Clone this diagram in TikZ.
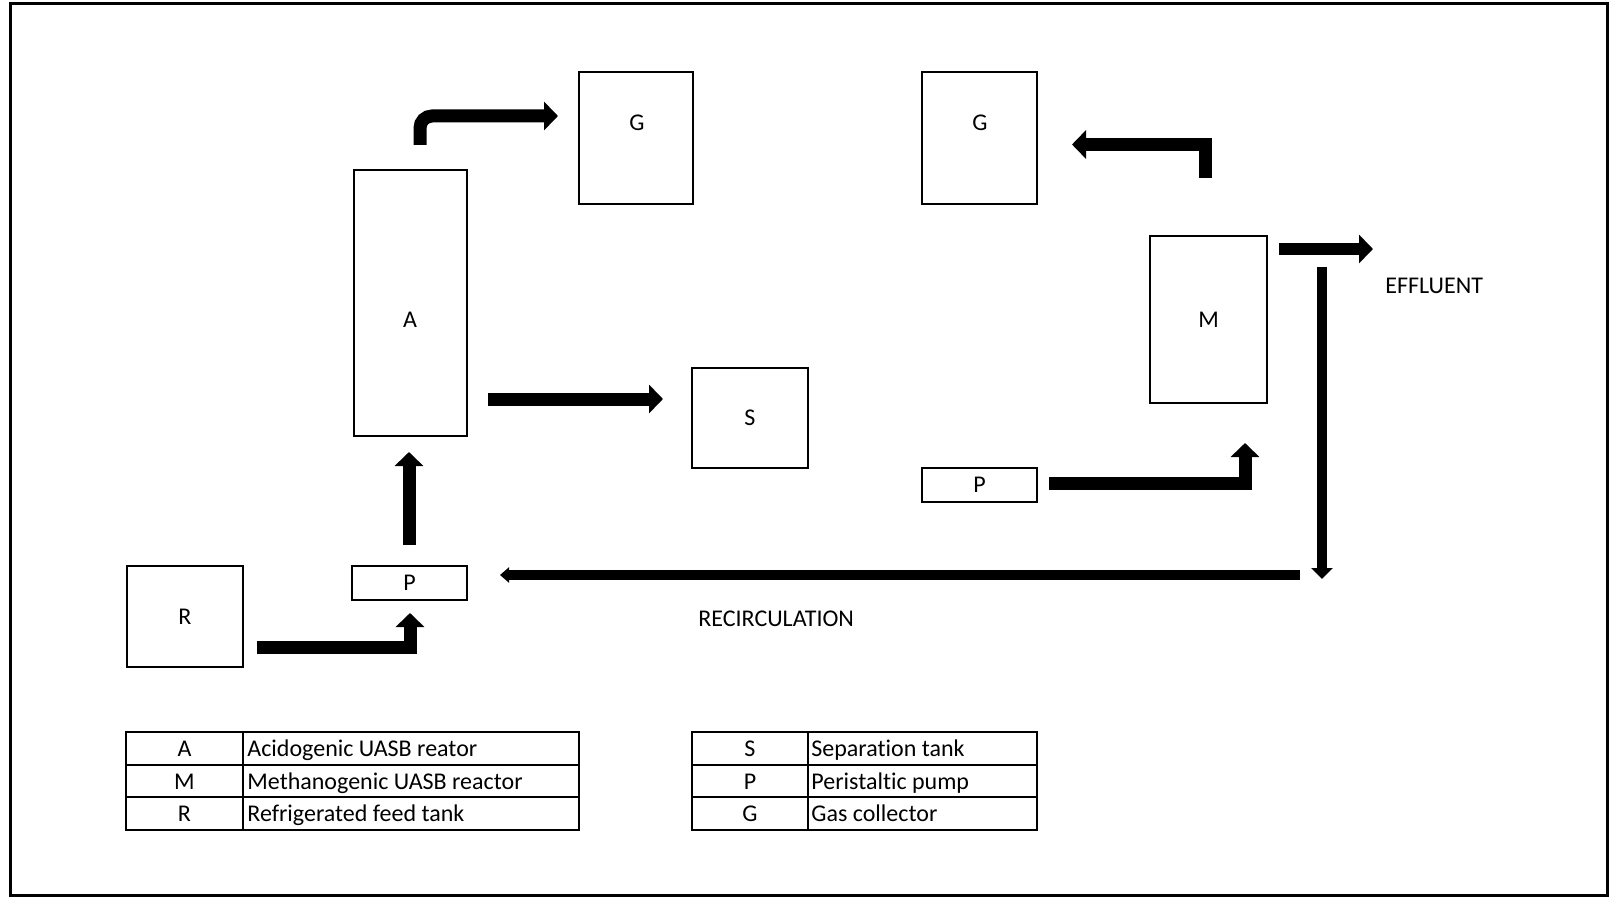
\documentclass[tikz,border=0pt]{standalone}
\usepackage{fontspec}
\setmainfont{Carlito}[Ligatures=NoCommon]
\usetikzlibrary{arrows.meta}
\begin{document}
\begin{tikzpicture}[x=0.5pt,y=-0.5pt,
  box/.style={draw, line width=1pt, inner sep=0pt},
  lbl/.style={font=\fontsize{12}{14}\selectfont, inner sep=0pt},
  flow/.style={line width=6.5pt, -{Triangle[width=14pt,length=7pt]}},
  rflow/.style={line width=5pt, -{Triangle[width=10.5pt,length=5.5pt]}},
  rtip/.style={line width=5pt, -{Triangle[width=7.5pt,length=4.5pt]}},
  tab/.style={line width=1pt},
]
\useasboundingbox (0,0) rectangle (1612,899);
\draw[line width=1.5pt] (10,4) rectangle (1607,895);

% boxes
\node[box, minimum width=56.5pt, minimum height=133pt] (A) at (410.5,303) {};
\node[lbl] (Atxt) at (410,320) {A};
\node[box, minimum width=57pt, minimum height=66pt] (G1) at (636,138) {};
\node[lbl] (G1txt) at (637,123) {G};
\node[box, minimum width=57.5pt, minimum height=66pt] (G2) at (979.5,138) {};
\node[lbl] (G2txt) at (980,123) {G};
\node[box, lbl, draw, line width=1pt, minimum width=58pt, minimum height=50pt] (S) at (750,418) {S};
\node[box, lbl, draw, line width=1pt, minimum width=58.5pt, minimum height=83.5pt] (M) at (1208.5,319.5) {M};
\node[box, lbl, draw, line width=1pt, minimum width=57.5pt, minimum height=17pt] (P1) at (409.5,583) {P};
\node[box, lbl, draw, line width=1pt, minimum width=57.5pt, minimum height=17pt] (P2) at (979.5,485) {P};
\node[box, lbl, draw, line width=1pt, minimum width=58pt, minimum height=50.5pt] (R) at (185,616.5) {R};

% arrow end points
\coordinate (aG1s) at (420,145);   \coordinate (aG1e) at (558,116);
\coordinate (mG2s) at (1205,178);  \coordinate (mG2e) at (1072,144.5);
\coordinate (aSs) at (488,399);    \coordinate (aSe) at (663,399);
\coordinate (pAs) at (409,545);    \coordinate (pAe) at (409,452);
\coordinate (rPs) at (257,647);    \coordinate (rPe) at (410,613);
\coordinate (pMs) at (1049,483);   \coordinate (pMe) at (1245,443);
\coordinate (effs) at (1279,249);  \coordinate (effe) at (1373,249);
\coordinate (recvs) at (1322,267); \coordinate (recve) at (1322,579);
\coordinate (rechs) at (1300,575); \coordinate (reche) at (500,575);

\draw[flow, rounded corners=6pt] (aG1s) |- (aG1e);
\draw[flow] (mG2s) |- (mG2e);
\draw[flow] (aSs) -- (aSe);
\draw[flow] (pAs) -- (pAe);
\draw[flow] (rPs) -| (rPe);
\draw[flow] (pMs) -| (pMe);
\draw[flow, line width=6pt] (effs) -- (effe);
\draw[rflow] (recvs) -- (recve);
\draw[rtip] (rechs) -- (reche);

\node[lbl, anchor=base west] (eff) at (1385,293) {EFFLUENT};
\node[lbl, anchor=base west] (rec) at (698,626) {RECIRCULATION};

% legend tables
\draw[tab] (126,732) rectangle (579,830);
\draw[tab] (243,732) -- (243,830);
\draw[tab] (126,764.7) -- (579,764.7);
\draw[tab] (126,797.3) -- (579,797.3);
\draw[tab] (692,732) rectangle (1037,830);
\draw[tab] (808,732) -- (808,830);
\draw[tab] (692,764.7) -- (1037,764.7);
\draw[tab] (692,797.3) -- (1037,797.3);

\node[lbl, anchor=base] (kA) at (184.5,756) {A};
\node[lbl, anchor=base] (kM) at (184.5,789) {M};
\node[lbl, anchor=base] (kR) at (184.5,821.5) {R};
\node[lbl, anchor=base west] (dA) at (247,756) {Acidogenic UASB reator};
\node[lbl, anchor=base west] (dM) at (247,789) {Methanogenic UASB reactor};
\node[lbl, anchor=base west] (dR) at (247,821.5) {Refrigerated feed tank};
\node[lbl, anchor=base] (kS) at (750,756) {S};
\node[lbl, anchor=base] (kP) at (750,789) {P};
\node[lbl, anchor=base] (kG) at (750,821.5) {G};
\node[lbl, anchor=base west] (dS) at (811,756) {Separation tank};
\node[lbl, anchor=base west] (dP) at (811,789) {Peristaltic pump};
\node[lbl, anchor=base west] (dG) at (811,821.5) {Gas collector};
\end{tikzpicture}
\end{document}
